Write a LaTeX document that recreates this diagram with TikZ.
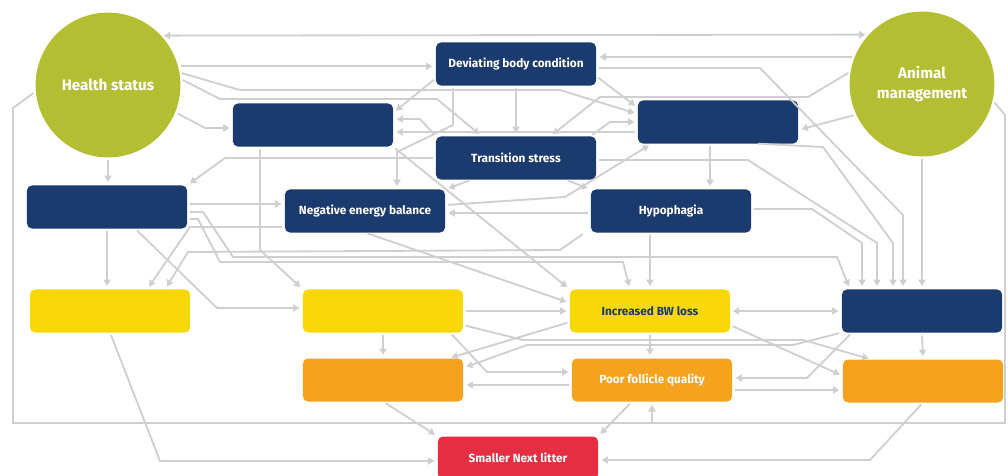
\documentclass[tikz,border=0pt]{standalone}
\usepackage{fontspec}
\setmainfont{Fira Sans}
\usetikzlibrary{arrows.meta}
\definecolor{cnavy}{HTML}{1B3A6E}
\definecolor{cgreen}{HTML}{B4BE32}
\definecolor{cyellow}{HTML}{F9D80A}
\definecolor{corange}{HTML}{F5A31F}
\definecolor{cred}{HTML}{E62E42}
\definecolor{cgray}{HTML}{CFCFCF}
\begin{document}
\begin{tikzpicture}[x=0.025cm,y=-0.025cm,
    box/.style={rectangle,rounded corners=3.5pt,minimum width=4cm,minimum height=1.075cm,
      inner sep=0pt,outer sep=0pt,text=white,font=\fontsize{8.4}{9}\selectfont\bfseries},
    darkbox/.style={box,fill=cnavy},
    yellowbox/.style={box,fill=cyellow,text=cnavy},
    orangebox/.style={box,fill=corange},
    redbox/.style={box,fill=cred},
    bigcircle/.style={circle,fill=cgreen,minimum size=3.62cm,inner sep=0pt,outer sep=0pt,
      text=white,align=center,font=\fontsize{10.8}{14}\selectfont\bfseries},
    link/.style={draw=cgray,line width=1.3pt,shorten <=2pt,shorten >=2.5pt,->},
    >={Triangle[length=4.5pt,width=5pt]}]
  \useasboundingbox (0,0) rectangle (1008,475);
  \node[bigcircle] (health) at (108,85) {Health status};
  \node[bigcircle] (animal) at (922,84) {Animal\\management};
  \node[darkbox] (body) at (516,64) {Deviating body condition};
  \node[darkbox] (dark1) at (313,125) {};
  \node[darkbox] (dark2) at (718,122) {};
  \node[darkbox] (stress) at (516,158) {Transition stress};
  \node[darkbox] (dark3) at (107,207) {};
  \node[darkbox] (neb) at (365,211) {Negative energy balance};
  \node[darkbox] (hypo) at (671,211) {Hypophagia};
  \node[yellowbox] (yellow1) at (110,311) {};
  \node[yellowbox] (yellow2) at (383,311) {};
  \node[yellowbox] (bwloss) at (650,311) {Increased BW loss};
  \node[darkbox] (dark4) at (922,311) {};
  \node[orangebox] (orange1) at (383,380) {};
  \node[orangebox] (follicle) at (652,380) {Poor follicle quality};
  \node[orangebox] (orange2) at (923,381) {};
  \node[redbox] (litter) at (518,458) {Smaller Next litter};
  \begin{scope}[link]
    \draw[<->] (health.43) -- (animal.137);
    \draw (health.15) -- (body.west |- health.15);
    \draw (health.10) -- (240,90) -- (560,90) -- (dark2.west |- 0,114);
    \draw (health.5) -- (220,99) -- (437,99) -- (stress.north -| 482,0);
    \draw (health.-22) -- (205,128) -- (dark1.west |- 0,128);
    \draw (health.south) -- (health.south |- dark3.north);
    \draw (health.185) -- (13,108) -- (13,423) -| (follicle.south);
    \draw (animal.158) -- (body.east |- animal.158);
    \draw (animal.170) -- (808,97) -- (600,97) -- (stress.north -| 550,0);
    \draw (animal.205) -- (dark2.east |- 0,130);
    \draw (animal.south) -- (dark4.north);
    \draw (animal.-13) -- (1005,115) -- (1005,423) -| (follicle.south);
    \draw (body.south) -- (stress.north);
    \draw (body.west |- 0,78) -- (dark1.east |- 0,113);
    \draw (body.south -| 453,0) -- (453,125) -- (397,152) -- (neb.north -| 397,0);
    \draw (body.east |- 0,76) -- (dark2.west |- 0,108);
    \draw (body.east |- 0,68) -- (760,68) -- (903,215) -- (dark4.north -| 903,0);
    \draw (stress.west) -- (225,158) -- (dark3.north east);
    \draw (stress.north west) -- (420,119) -- (dark1.east |- 0,119);
    \draw (stress.north -| 590,0) -- (610,122) -- (dark2.west |- 0,122);
    \draw (stress.east |- 0,160) -- (748,160) -- (877,243) -- (dark4.north -| 877,0);
    \draw (stress.south -| 472,0) -- (neb.north east);
    \draw (stress.south -| 565,0) -- (hypo.north west);
    \draw (dark1.south -| 260,0) -- (260,250) -- (yellow2.north west);
    \draw (dark1.south east) -- (bwloss.north west);
    \draw (dark2.west |- 0,132) -- (dark1.east |- 0,132);
    \draw (dark2.south -| 710,0) -- (hypo.north -| 710,0);
    \draw (dark2.south -| 755,0) -- (823,147) -- (893,243) -- (dark4.north -| 893,0);
    \draw (dark3.east |- 0,204) -- (neb.west |- 0,204);
    \draw (dark3.south) -- (yellow1.north -| dark3.south);
    \draw (dark3.south -| 135,0) -- (217,308) -- (yellow2.west |- 0,308);
    \draw (dark3.east |- 0,212) -- (203,212) -- (233,257) -- (837,257) -- (dark4.north -| 850,0);
    \draw (dark3.east |- 0,219) -- (198,219) -- (220,262) -- (623,262) -- (bwloss.north -| 630,0);
    \draw (neb.west |- 0,227) -- (190,227) -- (yellow1.north -| 147,0);
    \draw (neb.south) -- (bwloss.west |- 0,303);
    \draw (neb.east |- 0,205) -- (565,197) -- (dark2.south -| 652,0);
    \draw (hypo.west |- 0,213) -- (neb.east |- 0,213);
    \draw (hypo.south -| 650,0) -- (bwloss.north);
    \draw (hypo.east |- 0,209) -- (812,209) -- (862,243) -- (dark4.north -| 862,0);
    \draw (hypo.south -| 585,0) -- (560,250) -- (188,252) -- (yellow1.north -| 165,0);
    \draw (yellow1.south) -- (160,461) -- (litter.west |- 0,461);
    \draw (yellow2.east) -- (bwloss.west);
    \draw (yellow2.south) -- (orange1.north);
    \draw (yellow2.south -| 450,0) -- (487,372) -- (follicle.west |- 0,372);
    \draw (yellow2.east |- 0,325) -- (523,340) -- (803,340) -- (orange2.north -| 872,0);
    \draw[<->] (bwloss.east) -- (dark4.west);
    \draw (bwloss.west |- 0,322) -- (orange1.north -| 448,0);
    \draw (bwloss.east |- 0,325) -- (orange2.west |- 0,376);
    \draw (bwloss.south) -- (bwloss.south |- follicle.north);
    \draw (dark4.south west) -- (793,345) -- (527,345) -- (orange1.east |- 0,368);
    \draw (dark4.south -| 852,0) -- (807,378) -- (follicle.east |- 0,378);
    \draw (dark4.south) -- (orange2.north);
    \draw (follicle.west |- 0,385) -- (orange1.east |- 0,385);
    \draw (follicle.east |- 0,390) -- (orange2.west |- 0,390);
    \draw (orange1.south) -- (litter.north west);
    \draw (follicle.south -| 632,0) -- (litter.north east);
    \draw (orange2.south) -- (870,460) -- (litter.east |- 0,460);
  \end{scope}
\end{tikzpicture}
\end{document}
